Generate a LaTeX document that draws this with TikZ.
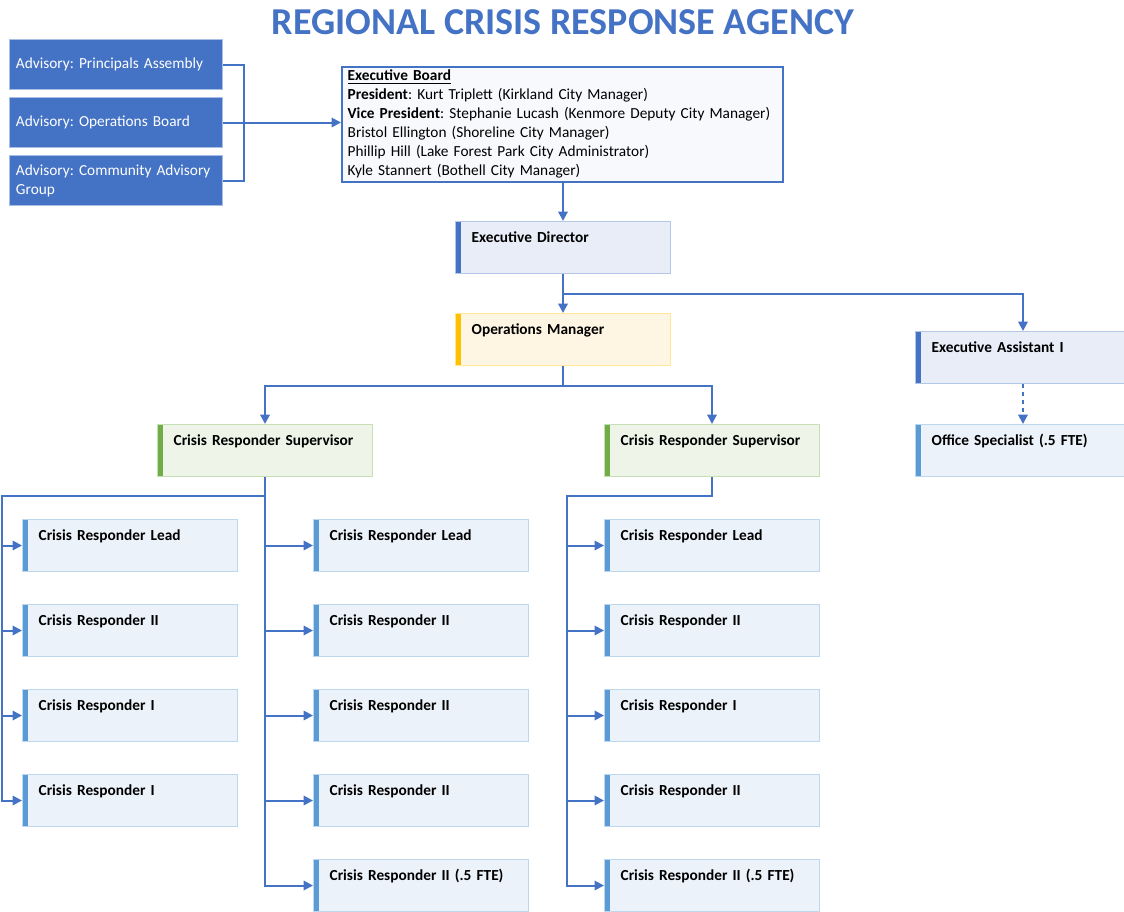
\documentclass[tikz,border=0pt]{standalone}
\usepackage{fontspec}
\setmainfont{Carlito}
\usetikzlibrary{arrows.meta,calc}

\definecolor{crblue}{HTML}{4472C4}
\definecolor{advline}{HTML}{A9BEE4}
\definecolor{boardfill}{HTML}{F8F9FC}
\definecolor{edfill}{HTML}{E8EDF7}
\definecolor{edline}{HTML}{B4C7E7}
\definecolor{omfill}{HTML}{FFF5E3}
\definecolor{omline}{HTML}{FFE699}
\definecolor{ombar}{HTML}{FFC000}
\definecolor{supfill}{HTML}{EEF5E8}
\definecolor{supline}{HTML}{C5E0B4}
\definecolor{supbar}{HTML}{70AD47}
\definecolor{stafffill}{HTML}{ECF2F9}
\definecolor{staffline}{HTML}{BDD7EE}
\definecolor{staffbar}{HTML}{5B9BD5}

\tikzset{
  conn/.style={draw=crblue, line width=1.5pt},
  arrowed/.style={-{Triangle[length=7pt,width=7pt]}},
  advbox/.style={fill=crblue, draw=advline, line width=0.75pt, anchor=north west,
    minimum width=159.75pt, minimum height=37.5pt, inner xsep=4.5pt, text width=150pt,
    align=left, text=white, font=\fontsize{11.5}{14.25}\selectfont},
  board/.style={fill=boardfill, draw=crblue, line width=1.2pt, anchor=north west,
    minimum width=330.75pt, minimum height=86.25pt, inner xsep=4.4pt, inner ysep=1pt,
    text width=322pt, align=left, font=\fontsize{11.5}{14.25}\selectfont},
  rolebox/.style n args={3}{fill=#1, draw=#2, line width=0.75pt, anchor=north west,
    minimum width=161.25pt, minimum height=39pt, inner xsep=12pt, inner ysep=0pt,
    text width=137pt, align=left, text height=16pt, text depth=23pt,
    font=\fontsize{11.5}{14}\selectfont\bfseries,
    path picture={\fill[#3] (path picture bounding box.south west)
      rectangle ([xshift=4pt]path picture bounding box.north west);}},
  edbox/.style={rolebox={edfill}{edline}{crblue}},
  ombox/.style={rolebox={omfill}{omline}{ombar}},
  supbox/.style={rolebox={supfill}{supline}{supbar}},
  staffbox/.style={rolebox={stafffill}{staffline}{staffbar}},
}

\begin{document}
\frenchspacing
\begin{tikzpicture}[x=0.75pt, y=-0.75pt]
\useasboundingbox (0,0) rectangle (1124,911);
\fill[white] (0,0) rectangle (1124,911);

\node[text=crblue, font=\fontsize{28.5}{30}\selectfont\bfseries] (title) at (563,22) {REGIONAL CRISIS RESPONSE AGENCY};

% advisory groups and board
\node[advbox] (adv1) at (9,39) {Advisory: Principals Assembly};
\node[advbox] (adv2) at (9,97) {Advisory: Operations Board};
\node[advbox] (adv3) at (9,155) {Advisory: Community Advisory\\Group};
\node[board] (board) at (341,66) {\underline{\textbf{Executive Board}}\\
  \textbf{President}: Kurt Triplett (Kirkland City Manager)\\
  \textbf{Vice President}: Stephanie Lucash (Kenmore Deputy City Manager)\\
  Bristol Ellington (Shoreline City Manager)\\
  Phillip Hill (Lake Forest Park City Administrator)\\
  Kyle Stannert (Bothell City Manager)};

% management
\node[edbox] (ed) at (455,221) {Executive Director};
\node[ombox] (om) at (455,313) {Operations Manager};
\node[edbox] (ea) at (915,331) {Executive Assistant I};
\node[staffbox] (os) at (915,424) {Office Specialist (.5 FTE)};
\node[supbox] (sup1) at (157,424) {Crisis Responder Supervisor};
\node[supbox] (sup2) at (604,424) {Crisis Responder Supervisor};

% responders
\foreach \lbl [count=\i] in {Crisis Responder Lead, Crisis Responder II, Crisis Responder I, Crisis Responder I}
  \node[staffbox] (l\i) at (22,434+85*\i) {\lbl};
\foreach \lbl [count=\i] in {Crisis Responder Lead, Crisis Responder II, Crisis Responder II, Crisis Responder II, Crisis Responder II (.5 FTE)}
  \node[staffbox] (m\i) at (313,434+85*\i) {\lbl};
\foreach \lbl [count=\i] in {Crisis Responder Lead, Crisis Responder II, Crisis Responder I, Crisis Responder II, Crisis Responder II (.5 FTE)}
  \node[staffbox] (r\i) at (604,434+85*\i) {\lbl};

\coordinate (advbus) at (244,123);
\coordinate (edfork) at ($(ed.south)!0.5!(om.north)$);
\coordinate (omfork) at ($(om.south)+(0,20)$);
\coordinate (lbus) at (2,496);
\coordinate (rbus) at (567,496);

\draw[conn] (adv1.east) -| (advbus) |- (adv3.east);
\draw[conn,arrowed] (adv2.east) -- (adv2.east -| board.west);
\draw[conn,arrowed] (board.south -| ed.north) -- (ed.north);
\draw[conn,arrowed] (ed.south) -- (om.north);
\draw[conn,arrowed] (edfork) -| (ea.north);
\draw[conn,arrowed,dashed] (ea.south) -- (os.north);
\draw[conn,arrowed] (om.south) -- (omfork) -| (sup1.north);
\draw[conn,arrowed] (om.south) -- (omfork) -| (sup2.north);

\foreach \i in {1,...,4}
  \draw[conn,arrowed] (sup1.south) |- (lbus) |- (l\i.west);
\foreach \i in {1,...,5}
  \draw[conn,arrowed] (sup1.south) |- (m\i.west);
\foreach \i in {1,...,5}
  \draw[conn,arrowed] (sup2.south) |- (rbus) |- (r\i.west);
\end{tikzpicture}
\end{document}
